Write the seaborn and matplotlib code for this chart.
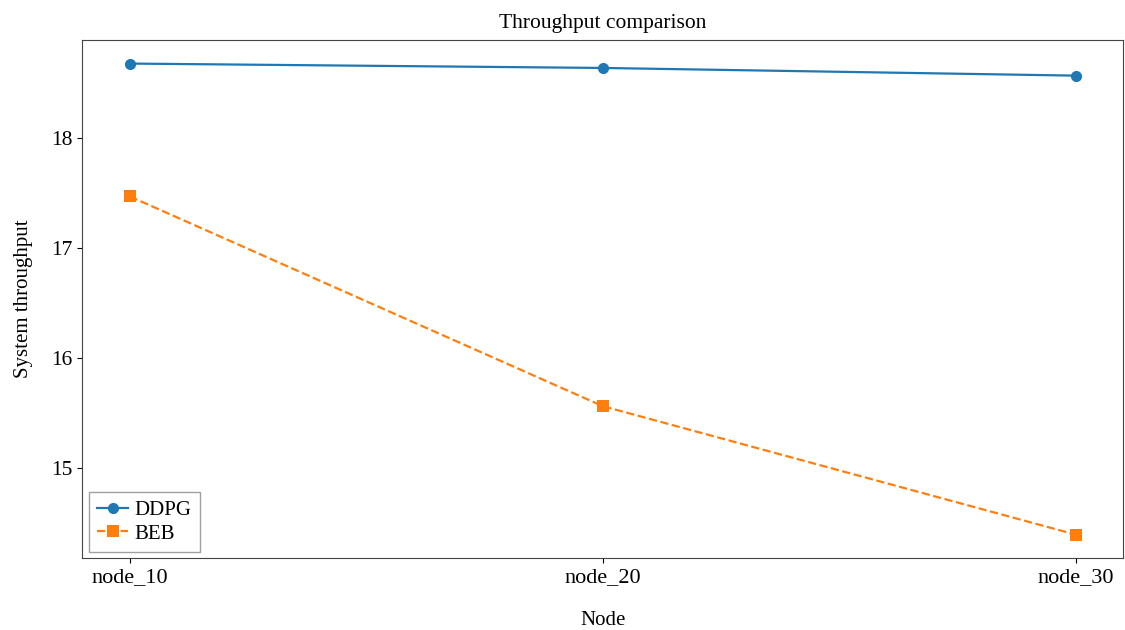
import pandas as pd
import seaborn as sns
import matplotlib.pyplot as plt

nodes = ['node_10', 'node_20', 'node_30']
ddpg = [18.68, 18.64, 18.57]
beb = [17.47, 15.56, 14.39]

df = pd.DataFrame({
    'Node': nodes * 2,
    'throughput': ddpg + beb,
    'method': ['DDPG'] * 3 + ['BEB'] * 3,
})

plt.rcParams['font.family'] = ['Liberation Serif', 'DejaVu Serif']
plt.rcParams['font.size'] = 15

fig = plt.figure(figsize=(11.25, 6.3), dpi=100)
ax = fig.add_axes([0.0733, 0.114, 0.925, 0.8225])

sns.lineplot(data=df, x='Node', y='throughput', hue='method', style='method',
             markers=['o', 's'], dashes=['', (3.7, 1.6)],
             palette=['#1f77b4', '#ff7f0e'], linewidth=1.6, markersize=8,
             markeredgewidth=0, ax=ax)

ax.set_title('Throughput comparison', fontsize=15.5, pad=9)
ax.set_xlabel('Node', fontsize=15, labelpad=17)
ax.set_ylabel('System throughput', fontsize=15, labelpad=13)
ax.set_yticks([15, 16, 17, 18])
ax.tick_params(axis='x', labelsize=16)
ax.tick_params(axis='y', labelsize=15.5)
for s in ax.spines.values():
    s.set_color('#444444')
leg = ax.legend(loc='lower left', fancybox=False, fontsize=15,
                handlelength=1.5, handletextpad=0.3, borderpad=0.4,
                labelspacing=0.2, borderaxespad=0.3)
leg.get_frame().set_edgecolor('#888888')

plt.savefig('out.png', dpi=100)
